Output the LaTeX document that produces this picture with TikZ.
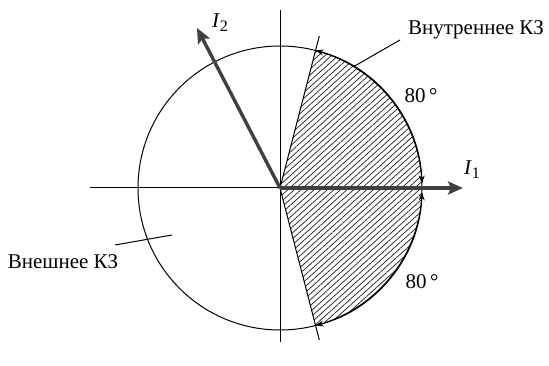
\documentclass[tikz,border=0pt]{standalone}
\usepackage{fontspec}
\setmainfont{Liberation Serif}
\usetikzlibrary{arrows.meta,patterns.meta,calc}
\begin{document}
\begin{tikzpicture}[x=1pt,y=1pt,
  thin line/.style={line width=1pt,black},
  vec/.style={line width=3.4pt,black!75,-{Stealth[length=15pt,width=13pt,inset=3pt]}},
  arcarrow/.style={line width=1pt,{Stealth[length=8pt,width=6pt]}-{Stealth[length=8pt,width=6pt]}},
  lbl/.style={font=\fontsize{21}{25}\selectfont,inner sep=0pt},
  hatch/.style={pattern={Lines[angle=42,distance=4.4pt,line width=0.75pt]},pattern color=black!85}
]
\useasboundingbox (0,0) rectangle (549,366);
\coordinate (O) at (280,178);
% hatched sector
\path[hatch] (O) -- ++(75.5:142) arc[start angle=75.5,end angle=-75.5,radius=142] -- cycle;
% circle
\draw[thin line] (O) circle[radius=142];
% axes
\coordinate (xl) at (90,178);
\coordinate (xr) at (455,178);
\coordinate (yt) at (280,356);
\coordinate (yb) at (280,24);
\draw[thin line] (xl) -- (xr);
\draw[thin line] (yb) -- (yt);
% boundary lines
\coordinate (bt) at ($(O)+(75.5:157)$);
\coordinate (bb) at ($(O)+(-75.5:157)$);
\draw[thin line] (O) -- (bt);
\draw[thin line] (O) -- (bb);
% arcs with arrows
\draw[arcarrow] ($(O)+(75.5:142)$) arc[start angle=75.5,end angle=1.8,radius=142];
\draw[arcarrow] ($(O)+(-1.8:142)$) arc[start angle=-1.8,end angle=-75.5,radius=142];
% vectors
\coordinate (I1end) at (463,178);
\coordinate (I2end) at (197,338);
\draw[vec] (O) -- (I1end);
\draw[vec] (O) -- (I2end);
\node[lbl] (I1) at (472,196) {\textit{I}\raisebox{-4pt}{\fontsize{16}{19}\selectfont 1}};
\node[lbl] (I2) at (220,343) {\textit{I}\raisebox{-4pt}{\fontsize{16}{19}\selectfont 2}};
% labels
\node[lbl] (vn) at (476,336) {Внутреннее КЗ};
\coordinate (vnA) at (400,326);
\coordinate (vnB) at (353,299);
\draw[thin line] (vnA) -- (vnB);
\node[lbl] (ex) at (63,104) {Внешнее КЗ};
\coordinate (exA) at (115,121);
\coordinate (exB) at (172,131);
\draw[thin line] (exA) -- (exB);
\node[lbl] (a1) at (421,270) {80\,°};
\node[lbl] (a2) at (422,84) {80\,°};
\end{tikzpicture}
\end{document}
